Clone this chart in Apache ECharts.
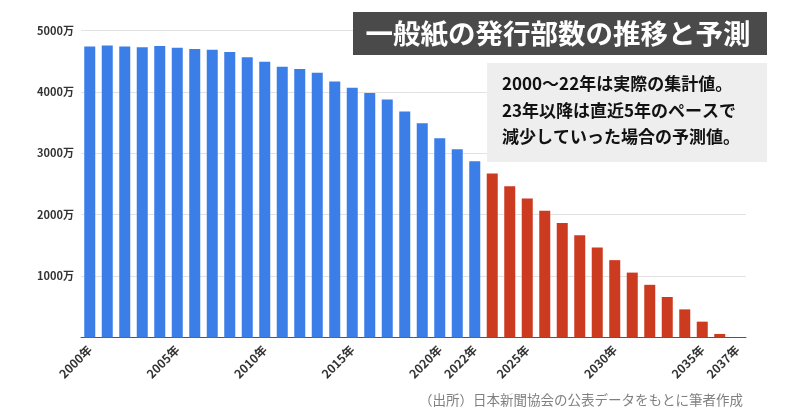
<!DOCTYPE html>
<html>
<head>
<meta charset="utf-8">
<script src="https://cdn.jsdelivr.net/npm/echarts@6/dist/echarts.min.js"></script>
<style>
html,body{margin:0;padding:0;background:#fff;}
#c{width:800px;height:419px;}
</style>
</head>
<body>
<div id="c"></div>
<script>
// Data (unit: 万部)
var years = ['2000年','2001年','2002年','2003年','2004年','2005年','2006年','2007年','2008年','2009年',
  '2010年','2011年','2012年','2013年','2014年','2015年','2016年','2017年','2018年','2019年',
  '2020年','2021年','2022年','2023年','2024年','2025年','2026年','2027年','2028年','2029年',
  '2030年','2031年','2032年','2033年','2034年','2035年','2036年','2037年'];
var actual = [4740, 4756, 4739, 4728, 4747, 4719, 4700, 4685, 4650, 4566,
  4491, 4409, 4372, 4313, 4169, 4069, 3982, 3876, 3682, 3488,
  3246, 3066, 2869];
var forecast = [2670, 2465, 2262, 2064, 1865, 1664, 1464, 1260, 1057, 858, 660, 458, 258, 58, 0];
var shownLabels = ['2000年','2005年','2010年','2015年','2020年','2022年','2025年','2030年','2035年','2037年'];
var yTicks = [0, 1000, 2000, 3000, 4000, 5000];
var titleText = '一般紙の発行部数の推移と予測';
var noteText = '2000～22年は実際の集計値。\n23年以降は直近5年のペースで\n減少していった場合の予測値。';
var sourceText = '（出所）日本新聞協会の公表データをもとに筆者作成';

var actualSeries = years.map(function (y, i) { return i < actual.length ? actual[i] : '-'; });
var forecastSeries = years.map(function (y, i) { return i < actual.length ? '-' : forecast[i - actual.length]; });

var FONT = '"Noto Sans CJK JP", "Noto Sans", sans-serif';
var chart = echarts.init(document.getElementById('c'), null, {renderer: 'canvas'});
chart.setOption({
  animation: false,
  backgroundColor: '#ffffff',
  textStyle: {fontFamily: FONT},
  grid: {left: 81, right: 54, top: 30.5, bottom: 81.5, containLabel: false},
  xAxis: {
    type: 'category',
    data: years,
    axisTick: {show: false},
    axisLine: {show: true, lineStyle: {color: '#555555', width: 1}},
    axisLabel: {
      rotate: 45,
      margin: 10,
      fontSize: 12,
      fontWeight: 'bold',
      color: '#333333',
      fontFamily: FONT,
      interval: function (idx, val) { return shownLabels.indexOf(val) >= 0; }
    }
  },
  yAxis: {
    type: 'value',
    min: yTicks[0],
    max: yTicks[yTicks.length - 1],
    interval: 1000,
    axisLine: {show: false},
    axisTick: {show: false},
    splitLine: {lineStyle: {color: '#e2e2e2', width: 1}},
    axisLabel: {
      formatter: function (v) { return v === 0 ? '' : v + '万'; },
      fontSize: 11,
      fontWeight: 'bold',
      color: '#333333',
      margin: 7,
      fontFamily: FONT
    }
  },
  series: [
    {
      name: '実績', type: 'bar', data: actualSeries, barWidth: 11, barGap: '-100%',
      itemStyle: {color: '#3b7ee8'}
    },
    {
      name: '予測', type: 'bar', data: forecastSeries, barWidth: 11, barGap: '-100%',
      itemStyle: {color: '#cc3a20'}
    }
  ],
  graphic: [
    {type: 'rect', shape: {x: 353, y: 12, width: 414, height: 43}, style: {fill: '#4a4a4a'}, z: 10},
    {type: 'text', x: 558, y: 33.5, z: 11,
      style: {text: titleText, fill: '#ffffff', font: 'bold 27.5px ' + FONT, textAlign: 'center', textVerticalAlign: 'middle'}},
    {type: 'rect', shape: {x: 487, y: 63, width: 280, height: 99}, style: {fill: '#eeeeee'}, z: 10},
    {type: 'text', x: 502, y: 70, z: 11,
      style: {text: noteText, fill: '#111111', font: 'bold 17px ' + FONT, lineHeight: 26.7, textAlign: 'left', textVerticalAlign: 'top'}},
    {type: 'text', x: 743, y: 400, z: 11,
      style: {text: sourceText, fill: '#808080', font: '13.5px ' + FONT, textAlign: 'right', textVerticalAlign: 'middle'}}
  ]
});
</script>
</body>
</html>
